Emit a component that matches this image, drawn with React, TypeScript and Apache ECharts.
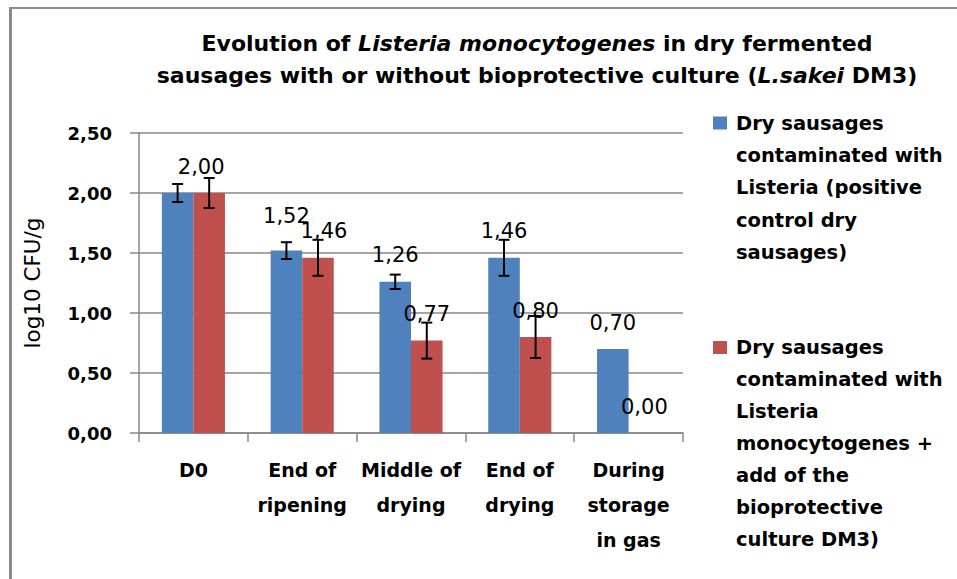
import React, { useEffect, useRef } from "react";
import * as echarts from "echarts";

const categories = ["D0", "End of\nripening", "Middle of\ndrying", "End of\ndrying", "During\nstorage\nin gas"];
const controlValues = [2.0, 1.52, 1.26, 1.46, 0.7];
const culturedValues = [2.0, 1.46, 0.77, 0.8, 0.0];
const controlErrors = [0.075, 0.07, 0.06, 0.15, 0];
const culturedErrors = [0.125, 0.15, 0.15, 0.175, 0];
const yTicks = { min: 0, max: 2.5, interval: 0.5 };
const seriesNames = [
  "Dry sausages contaminated with Listeria (positive control dry sausages)",
  "Dry sausages contaminated with Listeria monocytogenes + add of the bioprotective culture DM3)",
];
const legendLines = [
  "Dry sausages\ncontaminated with\nListeria (positive\ncontrol dry\nsausages)",
  "Dry sausages\ncontaminated with\nListeria\nmonocytogenes +\nadd of the\nbioprotective\nculture DM3)",
];

const BLUE = "#4F81BD";
const RED = "#C0504D";
const GREY = "#878787";
const FONT = "DejaVu Sans";
const fmt = (v: number) => v.toFixed(2).replace(".", ",");

// per-item label tweaks (layout only)
const controlLabelTweaks: any[] = [{ show: false }, { distance: 24 }, {}, {}, {}];
const culturedLabelTweaks: any[] = [{ offset: [-8, 0] }, { offset: [6, 0] }, {}, {}, {}];

function errorSeries(name: string, values: number[], errors: number[], sign: number) {
  return {
    type: "custom",
    name: name + " err",
    z: 5,
    silent: true,
    data: values.map((v, i) => [i, v, errors[i]]),
    encode: { x: 0, y: 1 },
    renderItem: (params: any, api: any) => {
      const idx = api.value(0);
      const v = api.value(1);
      const e = api.value(2);
      if (!e) return null;
      const c = api.coord([idx, v]);
      const catW = api.size([1, 0])[0];
      const barW = catW * 0.29;
      const x = c[0] + (sign * barW) / 2;
      const top = api.coord([idx, v + e])[1];
      const bot = api.coord([idx, v - e])[1];
      const cap = 5.5;
      const style = { stroke: "#000", lineWidth: 2 };
      return {
        type: "group",
        children: [
          { type: "line", shape: { x1: x, y1: top, x2: x, y2: bot }, style },
          { type: "line", shape: { x1: x - cap, y1: top, x2: x + cap, y2: top }, style },
          { type: "line", shape: { x1: x - cap, y1: bot, x2: x + cap, y2: bot }, style },
        ],
      };
    },
  };
}

export default function App() {
  const ref = useRef<HTMLDivElement>(null);
  useEffect(() => {
    if (!ref.current) return;
    const chart = echarts.init(ref.current, null, { renderer: "svg" });
    const labelBase = {
      show: true,
      position: "top",
      distance: 16,
      color: "#000",
      fontFamily: FONT,
      fontSize: 21,
      formatter: (p: any) => fmt(p.value),
    };
    chart.setOption({
      animation: false,
      backgroundColor: "#fff",
      title: {
        left: 532,
        top: 22,
        textAlign: "center",
        text:
          "{b|Evolution of }{i|Listeria monocytogenes}{b| in dry fermented}\n{b|sausages with or without bioprotective culture (}{i|L.sakei}{b| DM3)}",
        textStyle: {
          rich: {
            b: { fontFamily: FONT, fontWeight: "bold", fontSize: 22, lineHeight: 32, color: "#000" },
            i: { fontFamily: FONT, fontWeight: "bold", fontStyle: "italic", fontSize: 22, lineHeight: 32, color: "#000" },
          },
        },
      },
      grid: { left: 139, right: 274, top: 133, bottom: 146, containLabel: false },
      xAxis: {
        type: "category",
        data: categories,
        axisLine: { show: true, lineStyle: { color: GREY, width: 1.5 } },
        axisTick: { show: true, length: 9, lineStyle: { color: GREY, width: 1.5 } },
        axisLabel: {
          margin: 19,
          interval: 0,
          fontFamily: FONT,
          fontWeight: "bold",
          fontSize: 19,
          lineHeight: 35,
          color: "#000",
        },
      },
      yAxis: {
        type: "value",
        min: yTicks.min,
        max: yTicks.max,
        interval: yTicks.interval,
        name: "log10 CFU/g",
        nameLocation: "middle",
        nameGap: 96,
        nameTextStyle: { fontFamily: FONT, fontSize: 21.5, color: "#000" },
        axisLine: { show: true, lineStyle: { color: GREY, width: 1.5 } },
        axisTick: { show: true, length: 9, lineStyle: { color: GREY, width: 1.5 } },
        splitLine: { show: true, lineStyle: { color: GREY, width: 1.5 } },
        axisLabel: {
          margin: 27,
          fontFamily: FONT,
          fontWeight: "bold",
          fontSize: 18,
          color: "#000",
          formatter: (v: number) => fmt(v),
        },
      },
      series: [
        {
          type: "bar",
          name: seriesNames[0],
          barGap: "0%",
          barCategoryGap: "42%",
          itemStyle: { color: BLUE },
          label: labelBase,
          data: controlValues.map((v, i) => ({ value: v, label: controlLabelTweaks[i] })),
        },
        {
          type: "bar",
          name: seriesNames[1],
          itemStyle: { color: RED },
          label: labelBase,
          data: culturedValues.map((v, i) => ({ value: v, label: culturedLabelTweaks[i] })),
        },
        errorSeries(seriesNames[0], controlValues, controlErrors, -1),
        errorSeries(seriesNames[1], culturedValues, culturedErrors, 1),
      ],
      graphic: [
        { type: "line", shape: { x1: 10.5, y1: 8, x2: 957, y2: 8 }, style: { stroke: "#8a8a8a", lineWidth: 2 } },
        { type: "line", shape: { x1: 10.5, y1: 7, x2: 10.5, y2: 579 }, style: { stroke: "#8a8a8a", lineWidth: 3 } },
        { type: "rect", shape: { x: 713, y: 116.5, width: 14, height: 13 }, style: { fill: BLUE } },
        {
          type: "text",
          x: 736,
          y: 107,
          style: {
            text: legendLines[0],
            fontFamily: FONT,
            fontWeight: "bold",
            fontSize: 19.5,
            lineHeight: 32.3,
            fill: "#000",
            verticalAlign: "top",
          },
        },
        { type: "rect", shape: { x: 713, y: 341, width: 14, height: 13 }, style: { fill: RED } },
        {
          type: "text",
          x: 736,
          y: 331,
          style: {
            text: legendLines[1],
            fontFamily: FONT,
            fontWeight: "bold",
            fontSize: 19.5,
            lineHeight: 32,
            fill: "#000",
            verticalAlign: "top",
          },
        },
      ],
    });
    return () => chart.dispose();
  }, []);
  return (
    <div
      ref={ref}
      style={{ position: "fixed", left: 0, top: 0, width: 957, height: 579, background: "#fff" }}
    />
  );
}
